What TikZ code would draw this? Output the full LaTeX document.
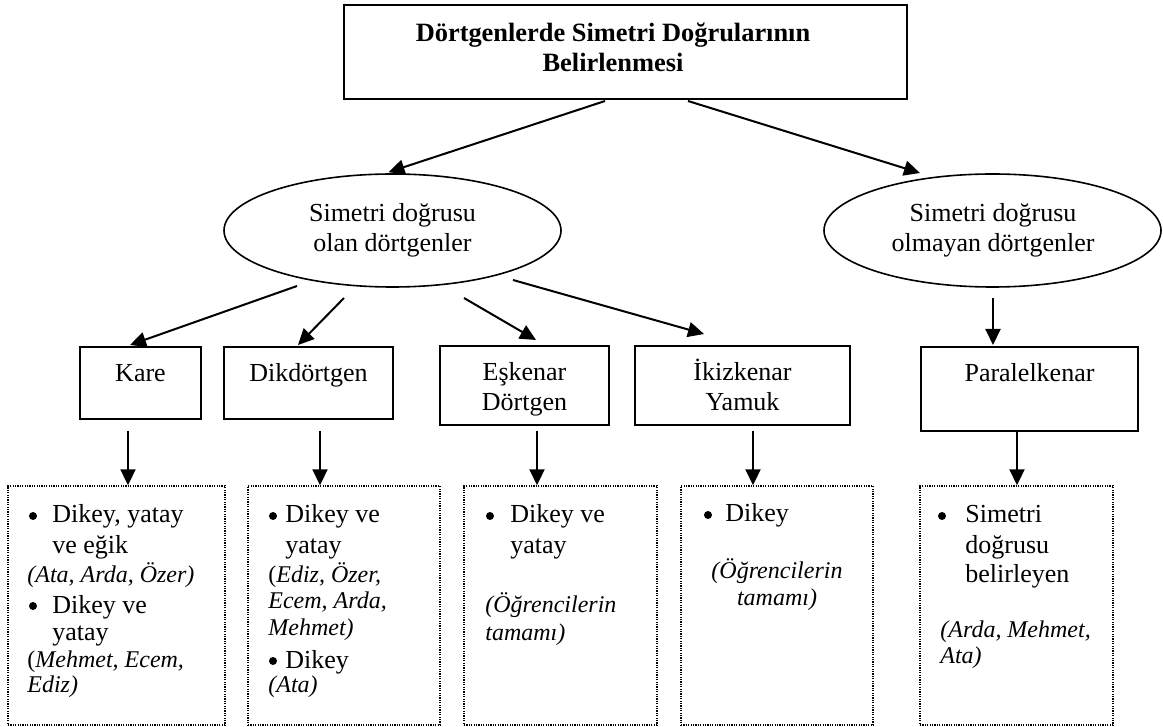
\documentclass[tikz,border=0pt]{standalone}
\usepackage{fontspec}
\setmainfont{Liberation Serif}
\usetikzlibrary{shapes.geometric,arrows.meta,calc}

\begin{document}
\begin{tikzpicture}[x=0.5pt,y=-0.5pt,
  box/.style={draw,line width=1pt,inner sep=0,rectangle},
  oval/.style={draw,ellipse,line width=0.8pt,inner sep=0},
  dotbox/.style={draw,line width=0.7pt,dash pattern=on 0.6pt off 0.6pt,inner sep=0,rectangle},
  arr/.style={line width=1pt,-{Triangle[length=8pt,width=7.5pt]}},
  ttl/.style={inner sep=0,anchor=base,font=\fontsize{13.2}{15}\selectfont\bfseries},
  lbl/.style={inner sep=0,anchor=base,font=\fontsize{13}{15}\selectfont},
  txt/.style={inner sep=0,anchor=base west,font=\fontsize{13}{15}\selectfont},
  bul/.style={circle,fill=black,inner sep=0,minimum size=4pt},
  nm/.style={inner sep=0,anchor=base west,font=\fontsize{12}{14}\selectfont\itshape},
  nmc/.style={nm,anchor=base},
]
\useasboundingbox (0,0) rectangle (1163,727);

% title box
\node[box,minimum width=281.5pt,minimum height=47pt] (top) at (625.5,52) {};
\node[ttl] (title1) at (613,42) {Dörtgenlerde Simetri Doğrularının};
\node[ttl] (title2) at (613,72) {Belirlenmesi};

% two groups
\node[oval,minimum width=168.5pt,minimum height=56.5pt] (ell1) at (392.5,230.5) {};
\node[lbl] (e1a) at (392.5,222) {Simetri doğrusu};
\node[lbl] (e1b) at (392.5,252) {olan dörtgenler};
\node[oval,minimum width=168.5pt,minimum height=56.5pt] (ell2) at (992.5,230.5) {};
\node[lbl] (e2a) at (993,222) {Simetri doğrusu};
\node[lbl] (e2b) at (993,252) {olmayan dörtgenler};

% quadrilateral boxes
\node[box,minimum width=60.5pt,minimum height=36pt] (kare) at (140.5,383) {};
\node[lbl] (tkare) at (140.5,382) {Kare};
\node[box,minimum width=84.5pt,minimum height=36pt] (dik) at (308.5,383) {};
\node[lbl] (tdik) at (308.5,382) {Dikdörtgen};
\node[box,minimum width=84.5pt,minimum height=39.5pt] (esk) at (524.5,385.5) {};
\node[lbl] (tesk1) at (524.5,381) {Eşkenar};
\node[lbl] (tesk2) at (524.5,411) {Dörtgen};
\node[box,minimum width=107.5pt,minimum height=39.5pt] (ikz) at (742.5,385.5) {};
\node[lbl] (tikz1) at (742.5,381) {İkizkenar};
\node[lbl] (tikz2) at (742.5,411) {Yamuk};
\node[box,minimum width=108.5pt,minimum height=42pt] (par) at (1029.5,389) {};
\node[lbl] (tpar) at (1029.5,382) {Paralelkenar};

% answer boxes
\node[dotbox,minimum width=108.5pt,minimum height=119.5pt] (b1) at (116.5,605.5) {};
\node[dotbox,minimum width=96pt,minimum height=119.5pt] (b2) at (344,605.5) {};
\node[dotbox,minimum width=96.5pt,minimum height=119.5pt] (b3) at (560.5,605.5) {};
\node[dotbox,minimum width=96pt,minimum height=119.5pt] (b4) at (777,605.5) {};
\node[dotbox,minimum width=96.5pt,minimum height=119.5pt] (b5) at (1016.5,605.5) {};

% box 1 contents
\node[bul] (b1d1) at (33,516) {};
\node[txt] (b1l1) at (52,523) {Dikey, yatay};
\node[txt] (b1l2) at (52,553) {ve eğik};
\node[nm]  (b1n1) at (27,582) {(Ata, Arda, Özer)};
\node[bul] (b1d2) at (33,606) {};
\node[txt] (b1l3) at (52,613) {Dikey ve};
\node[txt] (b1l4) at (52,640) {yatay};
\node[nm]  (b1n2) at (27,667) {{\upshape(}Mehmet, Ecem,};
\node[nm]  (b1n3) at (27,692) {Ediz)};

% box 2 contents
\node[bul] (b2d1) at (273,516) {};
\node[txt] (b2l1) at (285,523) {Dikey ve};
\node[txt] (b2l2) at (285,553) {yatay};
\node[nm]  (b2n1) at (268,582) {{\upshape(}Ediz, Özer,};
\node[nm]  (b2n2) at (268,608) {Ecem, Arda,};
\node[nm]  (b2n3) at (268,635) {Mehmet)};
\node[bul] (b2d2) at (273,661) {};
\node[txt] (b2l3) at (285,668) {Dikey};
\node[nm]  (b2n4) at (268,692) {(Ata)};

% box 3 contents
\node[bul] (b3d1) at (490,516) {};
\node[txt] (b3l1) at (510,523) {Dikey ve};
\node[txt] (b3l2) at (510,553) {yatay};
\node[nm]  (b3n1) at (485,612) {(Öğrencilerin};
\node[nm]  (b3n2) at (485,640) {tamamı)};

% box 4 contents
\node[bul] (b4d1) at (708,515) {};
\node[txt] (b4l1) at (725,522) {Dikey};
\node[nmc] (b4n1) at (777,578) {(Öğrencilerin};
\node[nmc] (b4n2) at (777,605) {tamamı)};

% box 5 contents
\node[bul] (b5d1) at (942,516) {};
\node[txt] (b5l1) at (965,523) {Simetri};
\node[txt] (b5l2) at (965,553) {doğrusu};
\node[txt] (b5l3) at (965,582) {belirleyen};
\node[nm]  (b5n1) at (940,637) {(Arda, Mehmet,};
\node[nm]  (b5n2) at (940,663) {Ata)};

% connectors: title to groups
\draw[arr] ($(top.south)+(-20.5,1)$) -- ($(ell1.north)+(-4,-1)$);
\draw[arr] ($(top.south)+(62.5,1)$) -- ($(ell2.center)+(-72.5,-57.5)$);

% group to quadrilaterals
\draw[arr] ($(ell1.center)+(-95.5,55.5)$) -- ($(kare.north)+(-10.5,-1)$);
\draw[arr] ($(ell1.center)+(-48.5,67.5)$) -- ($(dik.north)+(-10.5,-1)$);
\draw[arr] ($(ell1.center)+(71.5,67.5)$) -- ($(esk.north)+(11.5,-5)$);
\draw[arr] ($(ell1.center)+(120.5,49.5)$) -- ($(ikz.north)+(-38.5,-11)$);
\draw[arr] ($(ell2.center)+(0.5,67.5)$) -- ($(par.north)+(-36.5,-1)$);

% quadrilaterals to answers
\coordinate (s1) at ($(kare.south)+(-12.5,11)$);
\coordinate (s2) at ($(dik.south)+(11.5,11)$);
\coordinate (s3) at ($(esk.south)+(12.5,5)$);
\coordinate (s4) at ($(ikz.south)+(10.5,5)$);
\coordinate (s5) at ($(par.south)+(-12.5,0)$);
\draw[arr] (s1) -- (s1 |- b1.north);
\draw[arr] (s2) -- (s2 |- b2.north);
\draw[arr] (s3) -- (s3 |- b3.north);
\draw[arr] (s4) -- (s4 |- b4.north);
\draw[arr] (s5) -- (s5 |- b5.north);
\end{tikzpicture}
\end{document}
